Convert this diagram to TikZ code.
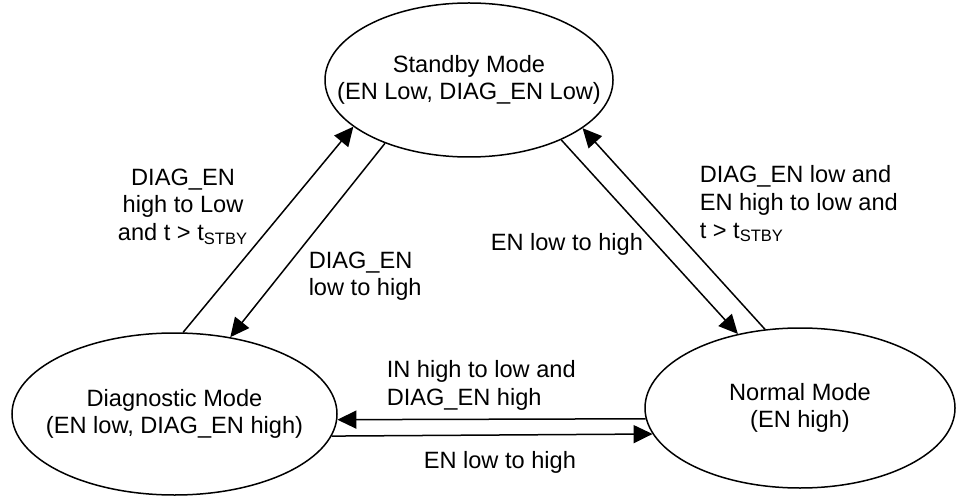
\documentclass[tikz,border=0pt]{standalone}
\usepackage{fontspec}
\setmainfont{Liberation Sans}
\usetikzlibrary{shapes.geometric, arrows.meta, positioning}

\begin{document}
\begin{tikzpicture}[x=0.5pt, y=-0.5pt, node distance=156pt, line width=0.75pt,
        >={Triangle[length=9.5pt, width=9pt]},
        every node/.style={font=\fontsize{11.8pt}{13.8pt}\selectfont},
        mode/.style={draw, ellipse, inner xsep=-30pt, inner ysep=0pt, align=center},
        cond/.style={inner sep=0pt}]
        \useasboundingbox (0,0) rectangle (956,496);

        \node[mode, minimum width=162.5pt, minimum height=81pt] (diag) at (174.5,414) {Diagnostic Mode\\(EN low, DIAG\_EN high)};
        \node[mode, minimum width=155pt, minimum height=80pt, right of=diag, xshift=156.75pt, yshift=3pt] (normal) {Normal Mode\\(EN high)};
        \node[mode, minimum width=144pt, minimum height=77pt, above of=diag, xshift=147.25pt, yshift=11pt] (standby) {Standby Mode\\(EN Low, DIAG\_EN Low)};

        \node[cond, anchor=north, align=center] (diagtostby) at (183,168) {DIAG\_EN\\high to Low\\and t > t\textsubscript{STBY}};
        \node[cond, anchor=north west, align=left] (stbytodiag) at (308,251) {DIAG\_EN\\low to high};
        \node[cond, anchor=base west] (stbytonorm) at (490,250) {EN low to high};
        \node[cond, anchor=north west, align=left] (normtostby) at (699,165) {DIAG\_EN low and\\EN high to low and\\t > t\textsubscript{STBY}};
        \node[cond, anchor=north west, align=left] (normtodiag) at (386,360) {IN high to low and\\DIAG\_EN high};
        \node[cond, anchor=base west] (diagtonorm) at (423,468) {EN low to high};

        \draw[->] (diag.84) -- (standby.202.8);
        \draw[->] (standby.217.1) -- (diag.54.9);
        \draw[->] (standby.327.1) -- (normal.130.9);
        \draw[->] (normal.114.2) -- (standby.337.9);
        \draw[->] (normal.184.1) -- (diag.358.2);
        \draw[->] (diag.352) -- (normal.190.9);
    \end{tikzpicture}
\end{document}
